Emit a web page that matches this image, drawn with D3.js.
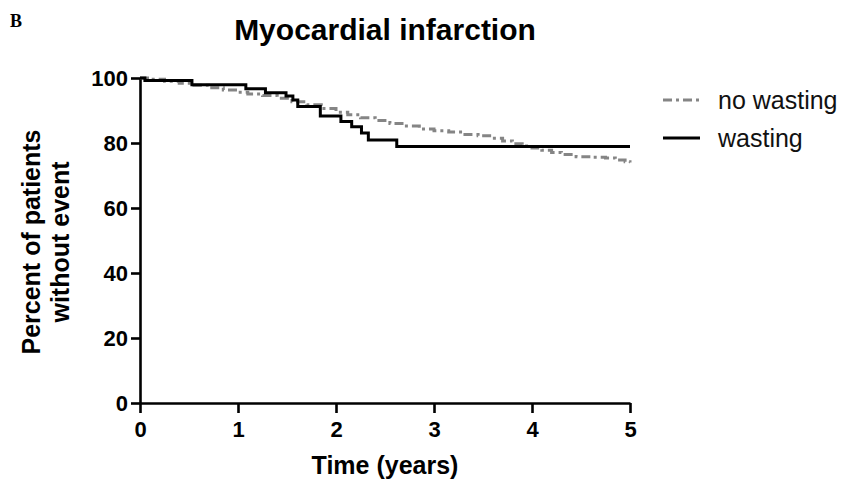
<!DOCTYPE html>
<html>
<head>
<meta charset="utf-8">
<script src="https://cdn.jsdelivr.net/npm/d3@7"></script>
<style>
  body { margin: 0; background: #fff; }
  text { font-family: "Liberation Sans", Arial, sans-serif; }
</style>
</head>
<body>
<div id="chart"></div>
<script>
// ticks
var xTicks = [0, 1, 2, 3, 4, 5];
var yTicks = [0, 20, 40, 60, 80, 100];

// wasting group (Kaplan-Meier steps), time in years, percent without event
var wastingTime  = [0, 0.05, 0.53, 1.08, 1.28, 1.49, 1.56, 1.61, 1.84, 2.05, 2.16, 2.26, 2.33, 2.62, 5.0];
var wastingValue = [100, 99.2, 97.9, 96.7, 95.5, 94.5, 93.2, 91.2, 88.3, 86.6, 85.0, 83.1, 80.9, 78.9, 78.9];

// no wasting group (many small steps)
var noWastingTime  = [0, 0.1, 0.25, 0.4, 0.55, 0.7, 0.85, 1.0, 1.1, 1.25, 1.4, 1.55, 1.7, 1.85, 2.0, 2.12,
                      2.25, 2.4, 2.55, 2.7, 2.85, 3.0, 3.15, 3.3, 3.45, 3.6, 3.7, 3.8, 3.9, 4.0, 4.1, 4.2,
                      4.3, 4.45, 4.6, 4.75, 4.85, 4.95, 5.0];
var noWastingValue = [100, 99.6, 99.0, 98.4, 97.8, 97.0, 96.3, 95.6, 95.1, 94.6, 93.8, 92.7, 91.8, 90.6, 89.5, 88.7,
                      87.8, 86.9, 86.0, 85.2, 84.3, 83.8, 83.4, 82.6, 82.2, 81.5, 80.6, 79.8, 79.1, 78.5, 77.8, 77.1,
                      76.5, 75.8, 75.6, 75.4, 74.8, 74.2, 74.0];

var seriesNames = ["no wasting", "wasting"];

var W = 847, H = 480;
var margin = {top: 78, right: 217, bottom: 77, left: 140};

var svg = d3.select("#chart").append("svg")
  .attr("width", W)
  .attr("height", H);

var x = d3.scaleLinear().domain([0, 5]).range([margin.left, W - margin.right]);
var y = d3.scaleLinear().domain([0, 100]).range([H - margin.bottom, margin.top]);

// panel letter
svg.append("text")
  .attr("x", 10).attr("y", 27)
  .style("font-family", "'Liberation Serif', 'DejaVu Serif', serif")
  .style("font-weight", "bold")
  .style("font-size", "18px")
  .text("B");

// title
svg.append("text")
  .attr("x", 385).attr("y", 40)
  .attr("text-anchor", "middle")
  .style("font-weight", "bold")
  .style("font-size", "30px")
  .text("Myocardial infarction");

// axes
var xAxis = svg.append("g")
  .attr("transform", "translate(0," + y(0) + ")")
  .call(d3.axisBottom(x).tickValues(xTicks).tickFormat(d3.format("d"))
    .tickSize(10).tickSizeOuter(0).tickPadding(8));

var yAxis = svg.append("g")
  .attr("transform", "translate(" + x(0) + ",0)")
  .call(d3.axisLeft(y).tickValues(yTicks).tickFormat(d3.format("d"))
    .tickSize(9).tickSizeOuter(0).tickPadding(3));

[xAxis, yAxis].forEach(function(a) {
  a.selectAll("path, line").attr("stroke", "#000").attr("stroke-width", 2.6);
  a.selectAll("text")
    .attr("fill", "#000")
    .style("font-family", "'Liberation Sans', Arial, sans-serif")
    .style("font-weight", "bold")
    .style("font-size", "22px");
});
yAxis.selectAll("text").attr("dy", "0.36em");

// axis titles
svg.append("text")
  .attr("x", 385).attr("y", 474)
  .attr("text-anchor", "middle")
  .style("font-weight", "bold")
  .style("font-size", "25px")
  .text("Time (years)");

var yt = svg.append("text")
  .attr("transform", "translate(40,242) rotate(-90)")
  .attr("text-anchor", "middle")
  .style("font-weight", "bold")
  .style("font-size", "25px");
yt.append("tspan").attr("x", 0).attr("y", 0).text("Percent of patients");
yt.append("tspan").attr("x", 0).attr("y", 29).text("without event");

// curves
var line = d3.line()
  .x(function(d) { return x(d[0]); })
  .y(function(d) { return y(d[1]); })
  .curve(d3.curveStepAfter);

var noWasting = d3.zip(noWastingTime, noWastingValue);
var wasting = d3.zip(wastingTime, wastingValue);

svg.append("path")
  .datum(noWasting)
  .attr("fill", "none")
  .attr("stroke", "#858585")
  .attr("stroke-width", 3)
  .attr("stroke-dasharray", "9,4,3,4")
  .attr("d", line);

svg.append("path")
  .datum(wasting)
  .attr("fill", "none")
  .attr("stroke", "#000")
  .attr("stroke-width", 3)
  .attr("d", line);

// legend
var legend = svg.append("g");
var styles = [
  {stroke: "#858585", dash: "9,4,3,4"},
  {stroke: "#000", dash: null}
];
seriesNames.forEach(function(name, i) {
  var ly = 100 + i * 38;
  legend.append("line")
    .attr("x1", 663).attr("x2", 700)
    .attr("y1", ly).attr("y2", ly)
    .attr("stroke", styles[i].stroke)
    .attr("stroke-width", 3)
    .attr("stroke-dasharray", styles[i].dash);
  legend.append("text")
    .attr("x", 718).attr("y", ly + 9)
    .attr("fill", "#111")
    .style("font-size", "25px")
    .text(name);
});
</script>
</body>
</html>
